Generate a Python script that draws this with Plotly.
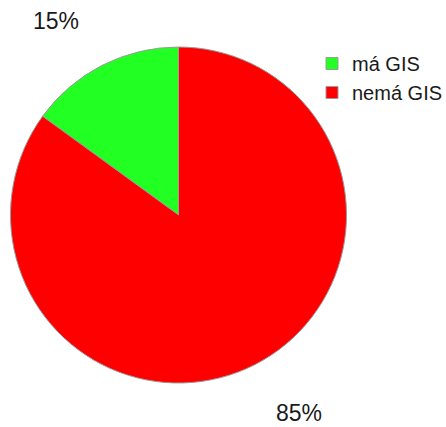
import plotly.graph_objects as go

labels = ["má GIS", "nemá GIS"]
values = [15, 85]
colors = ["#22FF22", "#FF0000"]

W, H = 446, 427
cx, cy, r = 178.5, 215.0, 168.0

total = sum(values)
pct = [f"{v / total * 100:.0f}%" for v in values]

fig = go.Figure(go.Pie(
    labels=labels,
    values=values,
    sort=False,
    direction="clockwise",
    rotation=-values[0] / total * 360,
    marker=dict(colors=colors, line=dict(color="#9a9a9a", width=1)),
    textinfo="none",
    hoverinfo="label+percent",
    domain=dict(x=[(cx - r) / W, (cx + r) / W],
                y=[(H - cy - r) / H, (H - cy + r) / H]),
))

label_pos = [(56, 21), (299, 413)]
for t, (x, y) in zip(pct, label_pos):
    fig.add_annotation(x=x / W, y=1 - y / H, xref="paper", yref="paper",
                       xanchor="center", yanchor="middle",
                       text=t, showarrow=False,
                       font=dict(family="Liberation Sans, Arial", size=23, color="#1a1a1a"))

fig.update_layout(
    width=W, height=H,
    margin=dict(l=0, r=0, t=0, b=0, autoexpand=False),
    paper_bgcolor="white",
    plot_bgcolor="white",
    font=dict(family="Liberation Sans, Arial", color="#1a1a1a"),
    legend=dict(x=312 / W, y=1 - 44 / H, xanchor="left", yanchor="top",
                font=dict(size=20), bgcolor="rgba(0,0,0,0)", traceorder="normal",
                borderwidth=0),
)

fig.write_html(
    "out.html",
    config={"displayModeBar": False},
    default_width="446px",
    default_height="427px",
    post_script="document.body.style.margin='0px';",
)
